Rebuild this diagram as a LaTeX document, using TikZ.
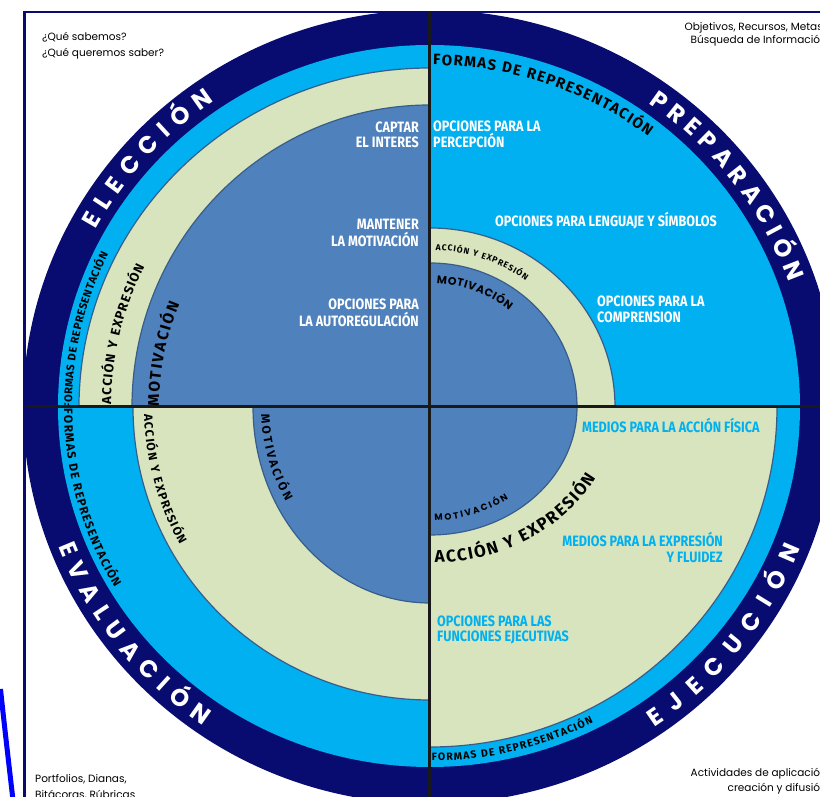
\documentclass[tikz,border=0pt]{standalone}
\usepackage{fontspec}
\usetikzlibrary{decorations.text}
\newfontfamily\pop{Poppins}
\newfontfamily\fira{Fira Sans}
\newfontfamily\firac{Fira Sans}[FakeStretch=0.84]
\definecolor{navyc}{RGB}{8,12,112}
\definecolor{cyanc}{HTML}{00B0F0}
\definecolor{beigec}{HTML}{D7E4BD}
\definecolor{steelc}{HTML}{4F81BD}
\definecolor{outlc}{HTML}{385D8A}
\definecolor{bluec}{RGB}{0,0,255}
\newcommand\tfont{\pop\bfseries\fontsize{24}{24}\selectfont}
\newcommand\qfill[5]{%
  \fill[#5] (0,0) -- ({#3*cos(#1)},{#4*sin(#1)}) arc[start angle=#1,end angle=#2,x radius=#3,y radius=#4] -- cycle;}
\newcommand\qline[4]{%
  \draw[outl] ({#3*cos(#1)},{#4*sin(#1)}) arc[start angle=#1,end angle=#2,x radius=#3,y radius=#4];}
\newcommand\arctxt[7]{%
  \path[decorate,decoration={text along path,text={|#5\color{#7}|#6},text align=fit to path}]
    ({#3*cos(#1)},{#4*sin(#1)}) arc[start angle=#1,end angle=#2,x radius=#3,y radius=#4];}
\tikzset{
  outl/.style={draw=outlc,line width=1.2pt},
  wtxt/.style={font=\firac\bfseries\fontsize{15}{15}\selectfont,text=white,inner sep=0pt},
  ctxt/.style={font=\firac\bfseries\fontsize{15}{15}\selectfont,text=cyanc,inner sep=0pt},
  corner/.style={font=\pop\fontsize{10.5}{10.5}\selectfont,text=black,inner sep=0pt},
  cross/.style={draw=black!90,line width=3pt},
  frame/.style={draw=navyc,line width=2.5pt}
}
\begin{document}
\begin{tikzpicture}[x=1pt,y=1pt]
\useasboundingbox (0,0) rectangle (820,797);
\clip (0,0) rectangle (820,797);
\fill[white] (0,0) rectangle (820,797);
% disc
\begin{scope}
\clip (24.5,0) rectangle (820,785);
\begin{scope}[shift={(430,390)}]
\fill[navyc] (0,0) ellipse[x radius=407,y radius=397];
% top-left: ELECCION
\qfill{90}{180}{372}{362}{cyanc}
\qfill{90}{180}{351}{339}{beigec}\qline{90}{180}{351}{339}
\qfill{90}{180}{298}{302}{steelc}\qline{90}{180}{298}{302}
% top-right: PREPARACION
\qfill{0}{90}{370}{362}{cyanc}
\qfill{0}{90}{185}{179}{beigec}\qline{0}{90}{185}{179}
\qfill{0}{90}{147}{144}{steelc}\qline{0}{90}{147}{144}
% bottom-left: EVALUACION
\qfill{180}{270}{372}{360}{cyanc}
\qfill{180}{270}{297}{293}{beigec}\qline{180}{270}{297}{293}
\qfill{180}{270}{177}{196}{steelc}\qline{180}{270}{177}{196}
% bottom-right: EJECUCION
\qfill{270}{360}{370}{360}{cyanc}
\qfill{270}{360}{347}{340}{beigec}\qline{270}{360}{347}{340}
\qfill{270}{360}{147}{128}{steelc}\qline{270}{360}{147}{128}
% ring titles
\arctxt{151.5}{124.5}{381}{371}{\tfont}{ELECCIÓN}{white}
\arctxt{55}{19.6}{381}{371}{\tfont}{PREPARACIÓN}{white}
\arctxt{201}{235.3}{398}{388}{\tfont}{EVALUACIÓN}{white}
\arctxt{304.3}{338.7}{398}{388}{\tfont}{EJECUCIÓN}{white}
% TL ring labels
\arctxt{180.3}{154}{358}{348}{\fira\bfseries\fontsize{11}{11}\selectfont}{FORMAS DE REPRESENTACIÓN}{black}
\arctxt{179.5}{153.5}{319}{315}{\fira\bfseries\fontsize{13}{13}\selectfont}{ACCIÓN Y EXPRESIÓN}{black}
\arctxt{180}{157.5}{271}{270}{\fira\bfseries\fontsize{15.5}{15.5}\selectfont}{MOTIVACIÓN}{black}
% TR ring labels
\arctxt{89.5}{52.3}{357}{342}{\fira\bfseries\fontsize{15}{15}\selectfont}{FORMAS DE REPRESENTACIÓN}{black}
\arctxt{88}{53.5}{161}{157}{\fira\bfseries\fontsize{8.5}{8.5}\selectfont}{ACCIÓN Y EXPRESIÓN}{black}
\arctxt{87}{51}{126}{124}{\pop\bfseries\fontsize{11}{11}\selectfont}{MOTIVACIÓN}{black}
% BL ring labels
\arctxt{180.3}{210.5}{366}{356}{\fira\bfseries\fontsize{12}{12}\selectfont}{FORMAS DE REPRESENTACIÓN}{black}
\arctxt{181.5}{209}{286}{284}{\fira\bfseries\fontsize{12}{12}\selectfont}{ACCIÓN Y EXPRESIÓN}{black}
\arctxt{182.5}{211.5}{169}{180}{\fira\bfseries\fontsize{12}{12}\selectfont}{MOTIVACIÓN}{black}
% BR ring labels
\arctxt{272}{306.5}{132}{114}{\pop\bfseries\fontsize{9}{9}\selectfont}{MOTIVACIÓN}{black}
\arctxt{271.5}{333}{186}{156}{\fira\bfseries\fontsize{17}{17}\selectfont}{ACCIÓN Y EXPRESIÓN}{black}
\arctxt{270.3}{296.8}{362}{354}{\fira\bfseries\fontsize{10.5}{10.5}\selectfont}{FORMAS DE REPRESENTACIÓN}{black}
\end{scope}
\end{scope}
% frame and cross
\draw[frame] (24.5,0) -- (24.5,785) -- (820,785);
\draw[cross] (429.5,0) -- (429.5,785);
\draw[cross] (24.5,390) -- (820,390);
% TL texts
\node[wtxt,anchor=base east] (tl1) at (419,664) {CAPTAR};
\node[wtxt,anchor=base east] (tl2) at (419,649) {EL INTERES};
\node[wtxt,anchor=base east] (tl3) at (419,567) {MANTENER};
\node[wtxt,anchor=base east] (tl4) at (419,550) {LA MOTIVACIÓN};
\node[wtxt,anchor=base east] (tl5) at (419,487) {OPCIONES PARA};
\node[wtxt,anchor=base east] (tl6) at (419,470) {LA AUTOREGULACIÓN};
% TR texts
\node[wtxt,anchor=base west] (tr1) at (433,665) {OPCIONES PARA LA};
\node[wtxt,anchor=base west] (tr2) at (433,649) {PERCEPCIÓN};
\node[wtxt,anchor=base west] (tr3) at (495,570) {OPCIONES PARA LENGUAJE Y SÍMBOLOS};
\node[wtxt,anchor=base west] (tr4) at (597,490) {OPCIONES PARA LA};
\node[wtxt,anchor=base west] (tr5) at (597,474) {COMPRENSION};
% BR texts
\node[ctxt,anchor=base west] (br1) at (582,364) {MEDIOS PARA LA ACCIÓN FÍSICA};
\node[ctxt,anchor=base east] (br2) at (723,250) {MEDIOS PARA LA EXPRESIÓN};
\node[ctxt,anchor=base east] (br3) at (723,234) {Y FLUIDEZ};
\node[ctxt,anchor=base west] (br4) at (437,170) {OPCIONES PARA LAS};
\node[ctxt,anchor=base west] (br5) at (437,155) {FUNCIONES EJECUTIVAS};
% corner texts
\node[corner,anchor=base west] (c1) at (42,756) {¿Qué sabemos?};
\node[corner,anchor=base west] (c2) at (42,740) {¿Qué queremos saber?};
\node[corner,anchor=base east] (c3) at (823,766) {Objetivos, Recursos, Metas};
\node[corner,anchor=base east] (c4) at (827,753) {Búsqueda de Información};
\node[corner,anchor=base west] (c5) at (35,14) {Portfolios, Dianas,};
\node[corner,anchor=base west] (c6) at (35,-2) {Bitácoras, Rúbricas};
\node[corner,anchor=base east] (c7) at (827,20) {Actividades de aplicación};
\node[corner,anchor=base east] (c8) at (827,5) {creación y difusión};
% stray blue stroke at the lower left
\draw[bluec,line width=5pt] (0.5,108) .. controls (4,75) and (8,40) .. (13,-3);
\end{tikzpicture}
\end{document}
